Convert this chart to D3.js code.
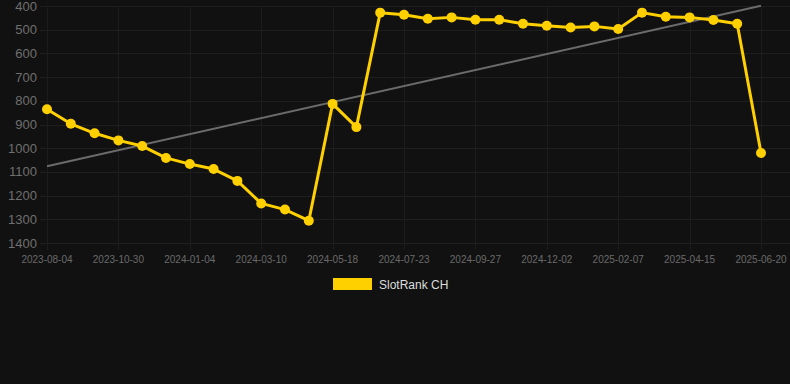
<!DOCTYPE html>
<html>
<head>
<meta charset="utf-8">
<script src="https://cdn.jsdelivr.net/npm/d3@7"></script>
<style>
  html, body { margin: 0; padding: 0; background: #111111; }
  svg { display: block; }
</style>
</head>
<body>
<svg width="790" height="384"></svg>
<script>
// categories (labels shown every 3rd point)
var dates = [
  "2023-08-04", "2023-09-02", "2023-10-01", "2023-10-30", "2023-11-21", "2023-12-13",
  "2024-01-04", "2024-01-25", "2024-02-16", "2024-03-10", "2024-04-01", "2024-04-25",
  "2024-05-18", "2024-06-09", "2024-07-01", "2024-07-23", "2024-08-14", "2024-09-05",
  "2024-09-27", "2024-10-19", "2024-11-10", "2024-12-02", "2024-12-24", "2025-01-16",
  "2025-02-07", "2025-03-01", "2025-03-24", "2025-04-15", "2025-05-07", "2025-05-29",
  "2025-06-20"
];
var ranks = [
  836, 897, 937, 967, 991, 1041, 1067, 1088, 1138, 1233, 1259, 1306,
  813, 911, 428, 437, 454, 448, 458, 458, 475, 483, 491, 486, 497,
  428, 445, 448, 459, 475, 1020
];
var yTicks = [400, 500, 600, 700, 800, 900, 1000, 1100, 1200, 1300, 1400];
var seriesName = "SlotRank CH";

var svg = d3.select("svg"),
    width = +svg.attr("width"),
    height = +svg.attr("height");

var plotLeft = 40, plotRight = 790, plotTop = 6, plotBottom = 243;

var x = d3.scalePoint()
    .domain(dates)
    .range([47, 761]);

var y = d3.scaleLinear()
    .domain([400, 1400])
    .range([plotTop, plotBottom]);

var xTicks = dates.filter(function (d, i) { return i % 3 === 0; });

// grid
var grid = svg.append("g");
grid.selectAll("line.h")
    .data(yTicks).enter()
    .append("line")
    .attr("x1", plotLeft).attr("x2", plotRight)
    .attr("y1", function (d) { return Math.round(y(d)) + 0.5; })
    .attr("y2", function (d) { return Math.round(y(d)) + 0.5; })
    .attr("stroke", "#1e1e1e")
    .attr("stroke-width", 1);
grid.selectAll("line.v")
    .data(xTicks).enter()
    .append("line")
    .attr("x1", function (d) { return Math.round(x(d)) + 0.5; })
    .attr("x2", function (d) { return Math.round(x(d)) + 0.5; })
    .attr("y1", plotTop).attr("y2", plotBottom + 7)
    .attr("stroke", "#1c1c1c")
    .attr("stroke-width", 1);

// y labels
svg.append("g").selectAll("text")
    .data(yTicks).enter()
    .append("text")
    .attr("x", 37)
    .attr("y", function (d) { return y(d); })
    .attr("dy", "0.35em")
    .attr("text-anchor", "end")
    .attr("font-family", "Liberation Sans, Arial, sans-serif")
    .attr("font-size", 13)
    .attr("fill", "#6f6f6f")
    .text(function (d) { return d; });

// x labels
svg.append("g").selectAll("text")
    .data(xTicks).enter()
    .append("text")
    .attr("x", function (d) { return x(d); })
    .attr("y", 263)
    .attr("text-anchor", "middle")
    .attr("font-family", "Liberation Sans, Arial, sans-serif")
    .attr("font-size", 10)
    .attr("fill", "#6a6a6a")
    .text(function (d) { return d; });

// trend line (least squares on index)
var n = ranks.length,
    mx = d3.mean(ranks, function (d, i) { return i; }),
    my = d3.mean(ranks);
var sxy = d3.sum(ranks, function (d, i) { return (i - mx) * (d - my); }),
    sxx = d3.sum(ranks, function (d, i) { return (i - mx) * (i - mx); });
var slope = sxy / sxx, icpt = my - slope * mx;

svg.append("line")
    .attr("x1", x(dates[0]))
    .attr("y1", y(icpt))
    .attr("x2", x(dates[n - 1]))
    .attr("y2", y(icpt + slope * (n - 1)))
    .attr("stroke", "#6b6b6b")
    .attr("stroke-width", 2);

// series
var line = d3.line()
    .x(function (d, i) { return x(dates[i]); })
    .y(function (d) { return y(d); });

svg.append("path")
    .datum(ranks)
    .attr("d", line)
    .attr("fill", "none")
    .attr("stroke", "#ffd000")
    .attr("stroke-width", 3)
    .attr("stroke-linejoin", "round");

svg.append("g").selectAll("circle")
    .data(ranks).enter()
    .append("circle")
    .attr("cx", function (d, i) { return x(dates[i]); })
    .attr("cy", function (d) { return y(d); })
    .attr("r", 5)
    .attr("fill", "#ffd000");

// legend
var legend = svg.append("g");
legend.append("rect")
    .attr("x", 333).attr("y", 278)
    .attr("width", 39).attr("height", 12)
    .attr("fill", "#ffd000");
legend.append("text")
    .attr("x", 379).attr("y", 288.5)
    .attr("font-family", "Liberation Sans, Arial, sans-serif")
    .attr("font-size", 12)
    .attr("fill", "#dddddd")
    .text(seriesName);
</script>
</body>
</html>
